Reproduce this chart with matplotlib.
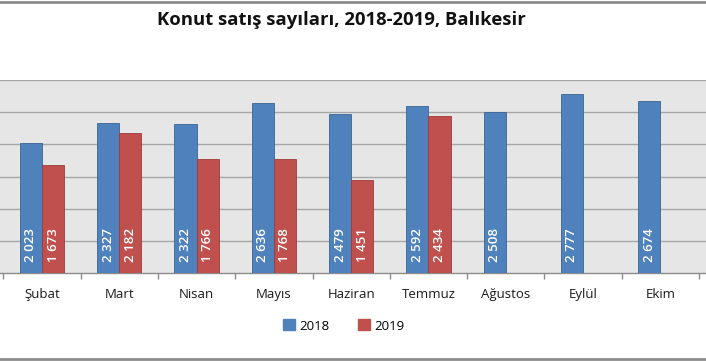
import matplotlib
matplotlib.use("Agg")
import matplotlib.pyplot as plt
import numpy as np
from matplotlib.lines import Line2D
from matplotlib.patches import Patch

months = ["Şubat", "Mart", "Nisan", "Mayıs", "Haziran", "Temmuz", "Ağustos", "Eylül", "Ekim"]
sales_2018 = [2023, 2327, 2322, 2636, 2479, 2592, 2508, 2777, 2674]
sales_2019 = [1673, 2182, 1766, 1768, 1451, 2434]
series_names = ["2018", "2019"]
title = "Konut satış sayıları, 2018-2019, Balıkesir"

blue = "#4f81bd"
red = "#c0504d"
font = ["Open Sans", "DejaVu Sans"]

W, H = 706, 361
fig = plt.figure(figsize=(W / 100, H / 100), dpi=100)
fig.patch.set_facecolor("white")

ax = fig.add_axes([0, 88 / H, 1, 193 / H])
ax.set_facecolor("#e6e6e6")
ax.set_ylim(0, 3000)
ax.set_xlim(-0.543, 8.59)

bw = 0.287
x = np.arange(len(months))
x19 = np.arange(len(sales_2019))

for yv in range(500, 3001, 500):
    ax.axhline(yv, color="#a6a6a6", lw=1.0, zorder=1)

ax.bar(x - bw / 2, sales_2018, width=bw, color=blue, edgecolor="#3a6595", lw=0.6, zorder=3)
ax.bar(x19 + bw / 2, sales_2019, width=bw, color=red, edgecolor="#9e3b38", lw=0.6, zorder=3)

def fmt(v):
    return f"{v:,}".replace(",", " ")

for xi, v in zip(x, sales_2018):
    ax.text(xi - bw / 2, 175, fmt(v), rotation=90, ha="center", va="bottom",
            color="white", fontsize=9.5, fontweight="semibold", family=font, zorder=4)
for xi, v in zip(x19, sales_2019):
    ax.text(xi + bw / 2, 175, fmt(v), rotation=90, ha="center", va="bottom",
            color="white", fontsize=9.5, fontweight="semibold", family=font, zorder=4)

for s in ["left", "right", "top"]:
    ax.spines[s].set_visible(False)
ax.spines["bottom"].set_color("#8c8c8c")
ax.spines["bottom"].set_linewidth(1.0)

ax.set_yticks([])
ax.set_xticks(x)
ax.set_xticklabels(months, family=font, fontsize=9.5, color="#1a1a1a")
ax.tick_params(axis="x", which="major", length=0, pad=11)
ax.set_xticks(np.arange(-0.5, 9.0, 1.0), minor=True)
ax.tick_params(axis="x", which="minor", length=4, color="#8c8c8c", width=1)

fig.text(341 / W, 1 - 20 / H, title, ha="center", va="center", fontsize=13.3,
         fontweight="bold", family=font, color="#111111")

handles = [Patch(facecolor=blue, edgecolor=blue), Patch(facecolor=red, edgecolor=red)]
fig.legend(handles, series_names, loc="center", bbox_to_anchor=(344 / W, 1 - 326 / H),
           ncol=2, frameon=False, prop={"family": font, "size": 9.5},
           handlelength=0.9, handleheight=0.9, handletextpad=0.3, columnspacing=2.2)

# chart frame lines (top and bottom)
fig.add_artist(Line2D([0, 1], [1 - 1.5 / H, 1 - 1.5 / H], transform=fig.transFigure,
                      color="#8c8c8c", lw=2))
fig.add_artist(Line2D([0, 1], [2.5 / H, 2.5 / H], transform=fig.transFigure,
                      color="#8c8c8c", lw=2))

fig.savefig("out.png", dpi=100, facecolor="white")
